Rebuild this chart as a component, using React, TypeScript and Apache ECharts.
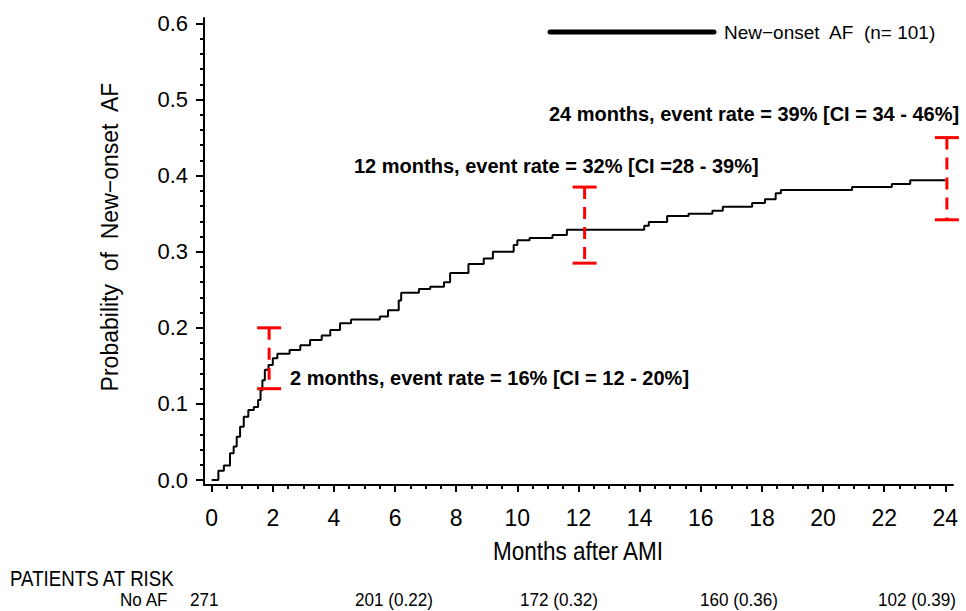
import React, { useEffect, useRef } from "react";
import * as echarts from "echarts";

// Kaplan-Meier cumulative incidence (step function), months after AMI
const months = [
  0, 0.22, 0.4, 0.6, 0.72, 0.82, 0.93, 1.05, 1.2, 1.38, 1.52, 1.6, 1.66, 1.74, 1.86,
  2.0, 2.15, 2.55, 2.9, 3.22, 3.6, 3.88, 4.2, 4.56, 5.5, 5.77, 6.12, 6.2, 6.78, 7.15,
  7.6, 7.8, 8.4, 8.9, 9.2, 9.88, 10.0, 10.4, 11.15, 11.62, 14.15, 14.3, 14.9, 15.6,
  16.38, 16.72, 17.68, 18.1, 18.45, 18.62, 20.95, 22.25, 22.85, 24.0,
];
const probability = [
  0, 0.012, 0.019, 0.035, 0.044, 0.057, 0.07, 0.083, 0.092, 0.096, 0.105, 0.118, 0.131,
  0.145, 0.151, 0.16, 0.166, 0.171, 0.177, 0.184, 0.19, 0.197, 0.206, 0.211, 0.215,
  0.223, 0.236, 0.246, 0.251, 0.254, 0.26, 0.272, 0.284, 0.291, 0.3, 0.309, 0.315,
  0.318, 0.322, 0.329, 0.334, 0.339, 0.347, 0.35, 0.354, 0.359, 0.364, 0.369, 0.377,
  0.381, 0.385, 0.389, 0.394, 0.394,
];

// Confidence intervals (red dashed bars)
const ciMonths = [1.88, 12.2, 24.05];
const ciLow = [0.12, 0.285, 0.342];
const ciHigh = [0.2, 0.385, 0.45];

// Tick values / labels
const xMajorTicks = [0, 2, 4, 6, 8, 10, 12, 14, 16, 18, 20, 22, 24];
const yMajorTicks = [0, 0.1, 0.2, 0.3, 0.4, 0.5, 0.6];
const yTickLabels = ["0.0", "0.1", "0.2", "0.3", "0.4", "0.5", "0.6"];

// Annotations
const annotationTexts = [
  "24 months, event rate = 39% [CI = 34 - 46%]",
  "12 months, event rate = 32% [CI =28 - 39%]",
  "2 months, event rate = 16% [CI = 12 - 20%]",
];
const legendLabel = "New\u2212onset  AF  (n= 101)";
const yTitle = "Probability  of  New\u2212onset  AF";
const xTitle = "Months after AMI";

// Patients at risk table
const atRiskHeader = "PATIENTS AT RISK";
const atRiskGroup = "No AF";
const atRiskLabels = ["271", "201 (0.22)", "172 (0.32)", "160 (0.36)", "102 (0.39)"];

const SANS = "'Liberation Sans', Arial, Helvetica, sans-serif";

export default function App() {
  const ref = useRef<HTMLDivElement>(null);

  useEffect(() => {
    if (!ref.current) return;
    const chart = echarts.init(ref.current, undefined, { renderer: "svg" });

    const xMinorTicks: number[] = [];
    for (let i = 1; i < 48; i++) if (i % 4 !== 0) xMinorTicks.push(i / 2);
    const yMinorTicks: number[] = [];
    for (let i = 1; i < 30; i++) if (i % 5 !== 0) yMinorTicks.push(i / 50);

    const axisLineStyle = { color: "#000", width: 2 };

    const atRiskLefts = [190, 355, 520, 700, 878];

    const narrowText = (
      text: string,
      x: number,
      y: number,
      fontSize: number,
      scaleX: number,
      align: string = "left"
    ) => ({
      type: "text",
      x,
      y,
      scaleX,
      style: { text, fontSize, fontFamily: SANS, fill: "#000", align, verticalAlign: "middle" },
    });

    const option: any = {
      animation: false,
      backgroundColor: "#fff",
      grid: { left: 204, right: 13, top: 18, bottom: 126, containLabel: false },
      xAxis: [
        {
          type: "value",
          min: -0.25,
          max: 24.25,
          axisLine: { show: true, onZero: false, lineStyle: axisLineStyle },
          axisTick: { show: true, customValues: xMajorTicks, length: 7, lineStyle: { color: "#000", width: 2 } },
          axisLabel: {
            show: true,
            customValues: xMajorTicks,
            fontSize: 23,
            fontFamily: SANS,
            color: "#000",
            margin: 21,
          },
          splitLine: { show: false },
        },
        {
          type: "value",
          min: -0.25,
          max: 24.25,
          position: "bottom",
          axisLine: { show: false, onZero: false },
          axisTick: { show: true, customValues: xMinorTicks, length: 4, lineStyle: { color: "#000", width: 2 } },
          axisLabel: { show: false },
          splitLine: { show: false },
        },
      ],
      yAxis: [
        {
          type: "value",
          min: -0.00657,
          max: 0.6072,
          axisLine: { show: true, onZero: false, lineStyle: axisLineStyle },
          axisTick: { show: true, customValues: yMajorTicks, length: 8, lineStyle: { color: "#000", width: 2 } },
          axisLabel: {
            show: true,
            customValues: yMajorTicks,
            formatter: (v: number) => {
              const idx = yMajorTicks.findIndex((t) => Math.abs(t - v) < 1e-6);
              return idx >= 0 ? yTickLabels[idx] : "";
            },
            fontSize: 22,
            fontFamily: SANS,
            color: "#000",
            margin: 16,
          },
          splitLine: { show: false },
        },
        {
          type: "value",
          min: -0.00657,
          max: 0.6072,
          position: "left",
          axisLine: { show: false, onZero: false },
          axisTick: { show: true, customValues: yMinorTicks, length: 4, lineStyle: { color: "#000", width: 2 } },
          axisLabel: { show: false },
          splitLine: { show: false },
        },
      ],
      series: [
        {
          type: "line",
          name: "New-onset AF",
          step: "end",
          symbol: "none",
          xAxisIndex: 0,
          yAxisIndex: 0,
          lineStyle: { color: "#000", width: 2 },
          data: months.map((m, i) => [m, probability[i]]),
          z: 2,
        },
        {
          type: "custom",
          xAxisIndex: 0,
          yAxisIndex: 0,
          renderItem: (params: any, api: any) => {
            const x = api.value(0);
            const lo = api.value(1);
            const hi = api.value(2);
            const pTop = api.coord([x, hi]);
            const pBot = api.coord([x, lo]);
            const half = 12;
            const red = "#ff0000";
            return {
              type: "group",
              children: [
                {
                  type: "line",
                  shape: { x1: pTop[0], y1: pTop[1], x2: pBot[0], y2: pBot[1] },
                  style: { stroke: red, lineWidth: 3, lineDash: [12, 8] },
                },
                {
                  type: "line",
                  shape: { x1: pTop[0] - half, y1: pTop[1], x2: pTop[0] + half, y2: pTop[1] },
                  style: { stroke: red, lineWidth: 3 },
                },
                {
                  type: "line",
                  shape: { x1: pBot[0] - half, y1: pBot[1], x2: pBot[0] + half, y2: pBot[1] },
                  style: { stroke: red, lineWidth: 3 },
                },
              ],
            };
          },
          encode: { x: 0, y: [1, 2] },
          data: ciMonths.map((m, i) => [m, ciLow[i], ciHigh[i]]),
          z: 3,
        },
      ],
      graphic: [
        // legend
        {
          type: "line",
          shape: { x1: 550, y1: 32, x2: 714, y2: 32 },
          style: { stroke: "#000", lineWidth: 5, lineCap: "round" },
        },
        {
          type: "text",
          x: 724,
          y: 32,
          style: { text: legendLabel, fontSize: 19, fontFamily: SANS, fill: "#000", align: "left", verticalAlign: "middle" },
        },
        // annotations
        {
          type: "text",
          x: 549,
          y: 114,
          style: { text: annotationTexts[0], fontSize: 20, fontWeight: "bold", fontFamily: SANS, fill: "#000", align: "left", verticalAlign: "middle" },
        },
        {
          type: "text",
          x: 354,
          y: 166,
          style: { text: annotationTexts[1], fontSize: 20, fontWeight: "bold", fontFamily: SANS, fill: "#000", align: "left", verticalAlign: "middle" },
        },
        {
          type: "text",
          x: 290,
          y: 378,
          style: { text: annotationTexts[2], fontSize: 20, fontWeight: "bold", fontFamily: SANS, fill: "#000", align: "left", verticalAlign: "middle" },
        },
        // axis titles
        {
          type: "text",
          x: 110,
          y: 237,
          rotation: Math.PI / 2,
          style: { text: yTitle, fontSize: 23, fontFamily: SANS, fill: "#000", align: "center", verticalAlign: "middle" },
        },
        narrowText(xTitle, 578, 551, 25, 0.9, "center"),
        // patients at risk
        narrowText(atRiskHeader, 10, 578, 22, 0.85),
        narrowText(atRiskGroup, 120, 600, 19, 0.9),
        ...atRiskLabels.map((t, i) => narrowText(t, atRiskLefts[i], 600, 19, 0.9)),
      ],
    };

    chart.setOption(option);
    return () => chart.dispose();
  }, []);

  return (
    <div
      ref={ref}
      style={{ position: "absolute", left: 0, top: 0, width: 966, height: 611 }}
    />
  );
}
